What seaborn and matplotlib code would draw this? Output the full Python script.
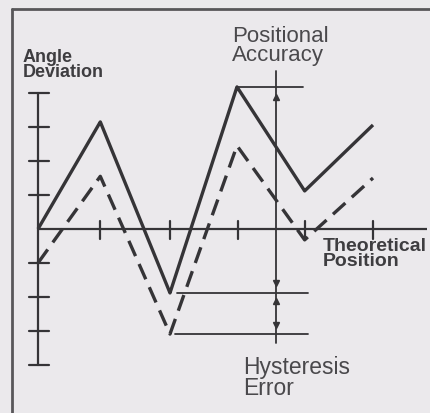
import numpy as np
import pandas as pd
import matplotlib
matplotlib.use('Agg')
import matplotlib.pyplot as plt
import seaborn as sns

# Values (x in position steps, y in deviation units)
positions = [0, 0.93, 1.97, 2.97, 3.98, 5.0]
forward_dev = [0, 3.15, -1.88, 4.18, 1.12, 3.06]     # solid line
reverse_dev = [-1.0, 1.55, -3.09, 2.45, -0.32, 1.5]  # dashed line
x_ticks = [0.93, 1.97, 2.98, 3.98, 5.0]
y_ticks = [-3, -2, -1, 1, 2, 3]
y_caps = [-4, 4]

sns.set_theme(style='white')
plt.rcParams['font.family'] = ['Liberation Sans', 'DejaVu Sans']

bg = '#ebe9ec'
ink = '#353437'

df = pd.DataFrame({
    'Position': positions * 2,
    'Deviation': forward_dev + reverse_dev,
    'Run': ['forward'] * len(positions) + ['reverse'] * len(positions),
})

fig = plt.figure(figsize=(4.30, 4.14), dpi=100, facecolor=bg)
ax = fig.add_axes([0, 0, 1, 1])
ax.set_facecolor(bg)
# pixel mapping: x px = 38 + 67*x, y px = 230 - 34*y
ax.set_xlim(-38 / 67, (430 - 38) / 67)
ax.set_ylim((230 - 414) / 34, 230 / 34)
ax.axis('off')

# frame (top and left edges only, as in the scan)
ax.plot([-26 / 67, 6.0], [220 / 34, 220 / 34], color='#58575a', lw=2, clip_on=False)
ax.plot([-26 / 67, -26 / 67], [220 / 34, -6], color='#58575a', lw=2, clip_on=False)

# axes of the diagram
ax.plot([0, 5.8], [0, 0], color=ink, lw=1.6, solid_capstyle='butt')
ax.plot([0, 0], [y_caps[0], y_caps[1]], color=ink, lw=1.6)
for yt in y_ticks + y_caps:
    ax.plot([-0.14, 0.17], [yt, yt], color=ink, lw=1.6)
for xt in x_ticks:
    ax.plot([xt, xt], [-0.3, 0.25], color=ink, lw=1.6)

sns.lineplot(data=df, x='Position', y='Deviation', style='Run', ax=ax,
             color=ink, linewidth=2.4, dashes=[(1, 0), (5, 2.6)],
             legend=False, sort=False, estimator=None)
for ln in ax.lines[-2:]:
    ln.set_dash_capstyle('butt')
    ln.set_solid_joinstyle('miter')

# annotation lines
x_mark = 3.55
top = max(forward_dev)
hyst_hi = min(forward_dev)
hyst_lo = min(reverse_dev)
ann_lw = 1.3
ax.plot([2.97, 3.95], [top, top], color=ink, lw=ann_lw)
ax.plot([2.07, 4.03], [hyst_hi, hyst_hi], color=ink, lw=ann_lw)
ax.plot([2.04, 4.03], [hyst_lo, hyst_lo], color=ink, lw=ann_lw)
ax.plot([x_mark, x_mark], [4.65, -3.35], color=ink, lw=ann_lw)
ax.plot([x_mark], [top - 0.3], marker='^', ms=5, color=ink)
ax.plot([x_mark], [hyst_hi + 0.28], marker='v', ms=5, color=ink)
ax.plot([x_mark], [hyst_hi - 0.25], marker='^', ms=5, color=ink)
ax.plot([x_mark], [hyst_lo + 0.28], marker='v', ms=5, color=ink)

# labels
ax.text(-0.224, 4.85, 'Angle\nDeviation', fontsize=13, fontweight='bold',
        color='#3e3d40', ha='left', va='center', linespacing=0.8)
ax.text(2.9, 5.41, 'Positional\nAccuracy', fontsize=16, color='#4a494c',
        ha='left', va='center', linespacing=0.85)
ax.text(4.25, -0.71, 'Theoretical\nPosition', fontsize=14, fontweight='bold',
        color='#3e3d40', ha='left', va='center', linespacing=0.85)
ax.text(3.06, -4.35, 'Hysteresis\nError', fontsize=16.5, color='#4a494c',
        ha='left', va='center', linespacing=0.85)

fig.savefig('out.png', dpi=100, facecolor=bg)
